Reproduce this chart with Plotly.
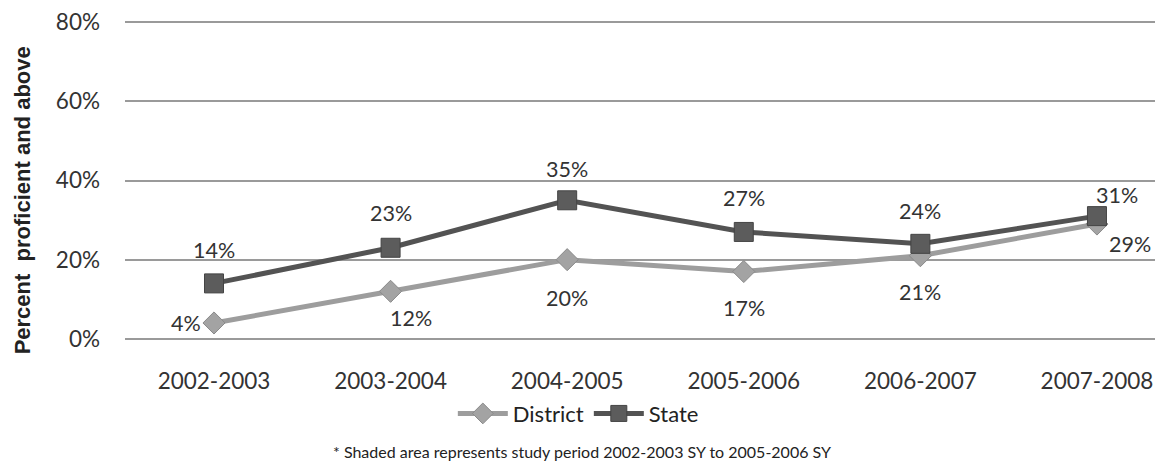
import plotly.graph_objects as go

years = ["2002-2003", "2003-2004", "2004-2005", "2005-2006", "2006-2007", "2007-2008"]
district = [0.04, 0.12, 0.20, 0.17, 0.21, 0.29]
state = [0.14, 0.23, 0.35, 0.27, 0.24, 0.31]
district_labels = ["4%", "12%", "20%", "17%", "21%", "29%"]
state_labels = ["14%", "23%", "35%", "27%", "24%", "31%"]
y_ticks = [0, 0.2, 0.4, 0.6, 0.8]
y_tick_labels = ["0%", "20%", "40%", "60%", "80%"]

# label offsets (pixels) for data labels
district_dx = [-28, 20, 0, 0, 0, 33]
district_dy = [0, -27, -38, -36, -36, -20]
state_dx = [0, 0, 0, 0, 0, 20]
state_dy = [33, 35, 31, 34, 33, 21]

xi = list(range(len(years)))
font_family = "Lato, 'Open Sans', sans-serif"
label_font = dict(size=21.5, color="#333333", family=font_family)

fig = go.Figure()
fig.add_trace(go.Scatter(
    x=xi, y=district, name="District", mode="lines+markers",
    line=dict(color="#9d9d9d", width=5),
    marker=dict(symbol="diamond", size=17, color="#a3a3a3", line=dict(color="#8a8a8a", width=1)),
    cliponaxis=False,
))
fig.add_trace(go.Scatter(
    x=xi, y=state, name="State", mode="lines+markers",
    line=dict(color="#535353", width=5),
    marker=dict(symbol="square", size=19, color="#5c5c5c", line=dict(color="#444444", width=1)),
    cliponaxis=False,
))

annotations = []
for i in xi:
    annotations.append(dict(x=i, y=district[i], text=district_labels[i], showarrow=False,
                            xshift=district_dx[i], yshift=district_dy[i], font=label_font))
    annotations.append(dict(x=i, y=state[i], text=state_labels[i], showarrow=False,
                            xshift=state_dx[i], yshift=state_dy[i], font=label_font))
annotations.append(dict(
    text="* Shaded area represents study period 2002-2003 SY to 2005-2006 SY",
    xref="paper", yref="paper", x=0.4415, y=-0.315, xanchor="center", yanchor="top",
    showarrow=False, font=dict(size=16, color="#222222", family=font_family),
))
annotations.append(dict(
    text="<b>Percent  proficient and above</b>", textangle=-90,
    xref="paper", yref="paper", x=-0.1128, y=0.437, xanchor="left", yanchor="middle",
    showarrow=False, font=dict(size=22, color="#222222", family="'Liberation Sans', Arial, sans-serif"),
))

fig.update_layout(
    width=1155, height=460,
    margin=dict(l=117, r=3, t=13, b=128, autoexpand=False),
    paper_bgcolor="white", plot_bgcolor="white",
    font=dict(family=font_family, color="#333333"),
    showlegend=True,
    legend=dict(orientation="h", x=0.438, xanchor="center", y=-0.165, yanchor="top",
                font=dict(size=22, color="#222222", family=font_family),
                itemwidth=50, tracegroupgap=0),
    xaxis=dict(
        tickmode="array", tickvals=xi, ticktext=years,
        range=[-0.504, 5.357], showgrid=False, zeroline=False, showline=False,
        tickfont=dict(size=22.5, color="#333333"), ticks="", ticklabelstandoff=25,
    ),
    yaxis=dict(
        tickmode="array", tickvals=y_ticks, ticktext=y_tick_labels,
        range=[-0.003, 0.803], showgrid=True, gridcolor="#9a9a9a", gridwidth=1.5,
        zeroline=False, showline=False, ticks="", ticklen=0, ticklabelstandoff=24,
        tickfont=dict(size=22.5, color="#333333"),
    ),
    annotations=annotations,
)

fig.write_html("out.html")
